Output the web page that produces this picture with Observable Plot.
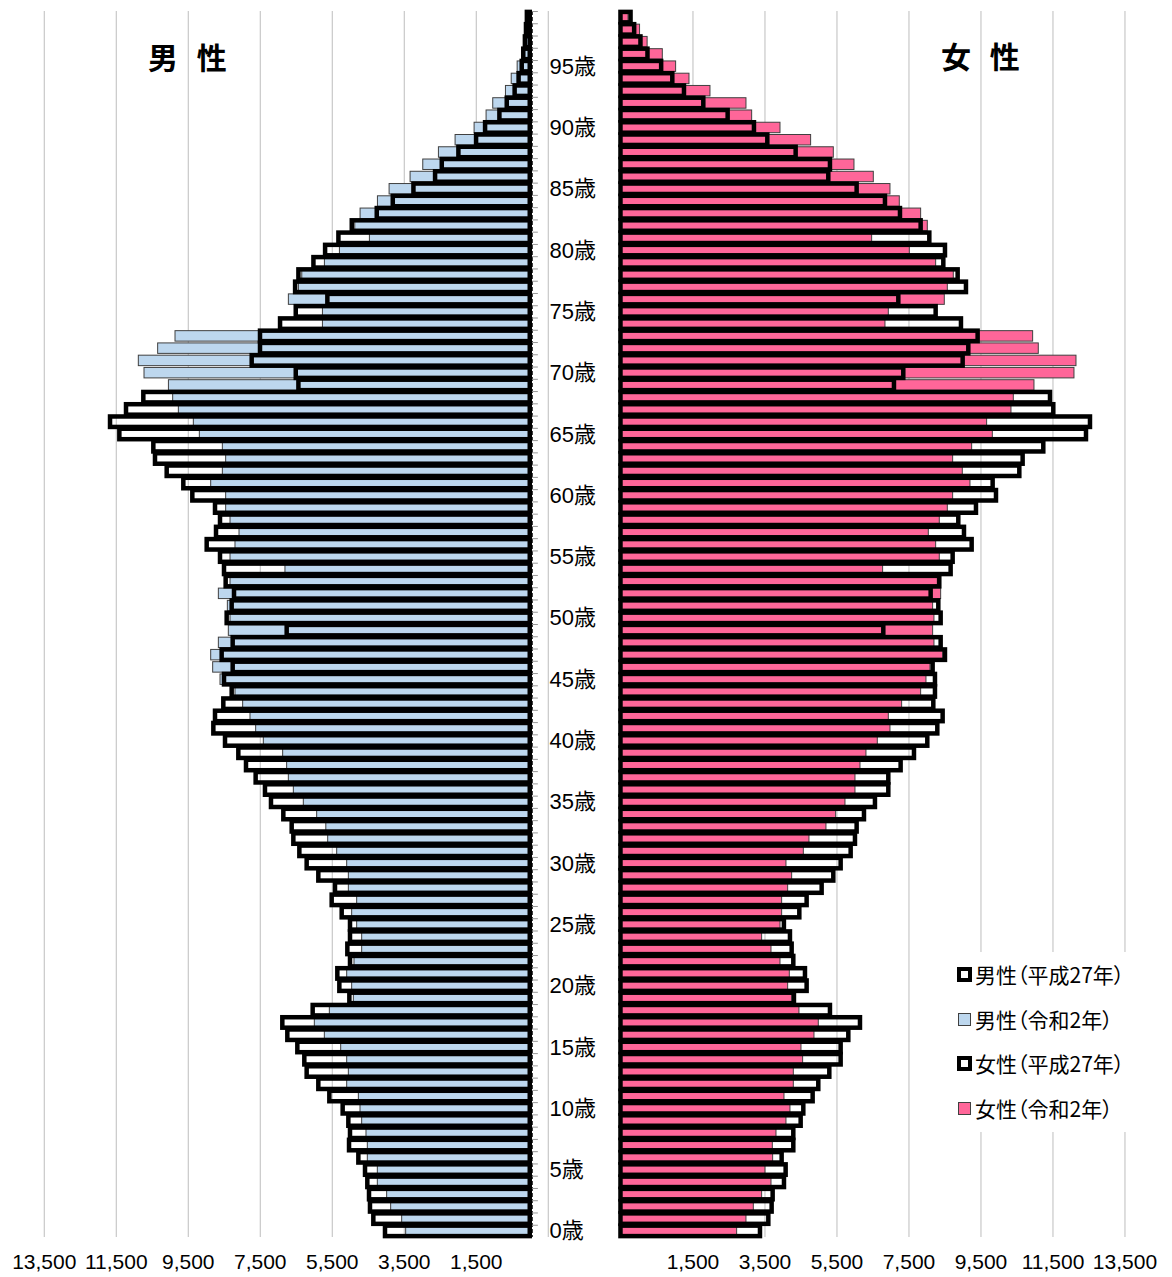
<!DOCTYPE html>
<html><head><meta charset="utf-8">
<script src="https://cdn.jsdelivr.net/npm/d3@7"></script>
<script src="https://cdn.jsdelivr.net/npm/@observablehq/plot@0.6"></script>
<style>
body{margin:0;background:#fff;}
#wrap{position:relative;width:1172px;height:1277px;overflow:hidden;font-family:"Noto Sans CJK JP","Noto Sans",sans-serif;}
#wrap svg{position:absolute;left:0;top:0;}
.title{position:absolute;font-weight:bold;font-size:30px;letter-spacing:6px;line-height:30px;white-space:pre;color:#000;}
#legend{position:absolute;left:940px;top:952px;width:218px;height:180px;background:#fff;}
.item{position:absolute;left:17px;height:26px;font-size:21px;line-height:26px;display:flex;align-items:center;white-space:nowrap;color:#000;font-feature-settings:"palt";}
.sw{display:inline-block;box-sizing:border-box;}
</style></head>
<body><div id="wrap"></div>
<script>
// ---- data (persons), index = age 0..99 ----
const ages = d3.range(0, 100);
const male2015 = [4021,4345,4438,4465,4512,4576,4761,5020,4993,5039,
  5197,5567,5873,6197,6262,6456,6734,6873,6030,5011,
  5289,5345,4993,5067,4993,4993,5224,5502,5410,5873,
  6197,6400,6567,6613,6845,7188,7355,7614,7882,8095,
  8465,8789,8743,8512,8280,8493,8252,8558,8252,6752,
  8419,8280,8215,8447,8493,8604,8974,8715,8604,8743,
  9373,9623,10085,10410,10456,11400,11659,11215,10734,6426,
  6500,7724,7493,7493,6936,6500,5622,6518,6426,6009,
  5685,5315,4944,4250,3805,3231,2630,2444,1982,1491,
  1241,843,639,420,310,223,180,135,105,80];
const male2020 = [3447,3558,3864,3975,4234,4234,4512,4512,4549,4669,
  4715,4761,5085,5039,5085,5252,5706,5984,5567,4900,
  4947,5085,4882,4669,4669,4808,4947,4808,5039,5039,
  5085,5363,5613,5665,5919,6290,6567,6706,6753,6864,
  7401,7614,7771,7975,8188,8604,8808,8863,8650,8373,
  8326,8400,8650,8326,6800,8326,8188,8076,8326,8447,
  8447,8863,8539,8447,8539,9178,9345,9761,9919,10037,
  10715,10873,10336,9854,5759,5759,6705,6426,6333,5704,
  5287,4454,4861,4713,4231,3907,3324,2972,2537,2074,
  1546,1213,1028,675,515,350,210,140,95,65];
const female2015 = [3875,4107,4199,4227,4542,4588,4477,4801,4801,5005,
  5079,5338,5495,5801,6116,6116,6329,6653,5819,4819,
  5171,5125,4801,4755,4708,4540,4968,5171,5588,5912,
  6116,6394,6514,6560,6764,7069,7440,7440,7782,8153,
  8523,8801,8949,8690,8736,8736,8671,9014,8894,7301,
  8894,8829,8616,8856,9171,9227,9755,9542,9384,9875,
  10431,10338,11079,11171,11745,12931,13042,12023,11931,7597,
  7856,9505,9662,9921,9458,8755,7718,9597,9366,8968,
  9014,8579,8338,7764,7347,6560,5773,5819,4866,4079,
  3708,2977,2301,1764,1440,1130,750,555,380,280];
const female2020 = [3227,3486,3690,3921,4181,4014,4227,4218,4320,4597,
  4708,4542,4801,4801,5060,5014,5375,5495,4958,4755,
  4644,4690,4431,4181,3921,4431,4477,4477,4644,4755,
  4597,5079,5236,5708,5977,6236,6514,6514,6653,6819,
  7134,7486,7440,7810,8338,8486,8597,8949,8708,8671,
  8708,8671,8894,8801,7282,8856,8755,8551,8856,9079,
  9227,9708,9495,9227,9755,10329,10171,10847,10912,11486,
  12597,12653,11606,11449,7347,7440,8995,9079,9245,8755,
  8023,6977,8523,8338,7745,7486,7023,6486,5912,5282,
  4431,3644,3486,2486,1903,1532,1162,740,530,210];
const tickValues = [1500,3500,5500,7500,9500,11500,13500];
const tickLabels = ["1,500","3,500","5,500","7,500","9,500","11,500","13,500"];
const seriesNames = ["男性（平成27年）","男性（令和2年）","女性（平成27年）","女性（令和2年）"];
const sideTitles = ["男 性","女 性"];

// ---- layout ----
const W = 1172, H = 1277;
const PX = 0.036;          // px per person
const MALE_ZERO = 529.75;  // px of male baseline
const FEMALE_OFF = 2520;   // female baseline offset in the shared x unit
const FEMALE_AXIS_SHIFT = 500; // female axis labels in the original sit 500 to the right
const blue = "#BDD7EE", pink = "#FF6699";

const rows = ages.map(a => ({age: a, m15: male2015[a], m20: male2020[a], f15: female2015[a], f20: female2020[a]}));
const ticks = [
  ...tickValues.map((v,i) => ({u: -v, label: tickLabels[i]})),
  ...tickValues.map((v,i) => ({u: FEMALE_OFF + v + FEMALE_AXIS_SHIFT, label: tickLabels[i]}))
];
const MT = 11, MB = 40;
const step = (H - MB - MT) / ages.length;
const inset = 0.9;

const chart = Plot.plot({
  width: W, height: H,
  marginTop: MT, marginBottom: MB, marginLeft: 0, marginRight: 0,
  x: {domain: [-MALE_ZERO / PX, (W - MALE_ZERO) / PX], axis: null},
  y: {type: "band", domain: ages.slice().reverse(), padding: 0, round: false, axis: null},
  style: {background: "white", fontFamily: "'Liberation Sans','Noto Sans CJK JP',sans-serif"},
  marks: [
    Plot.ruleX(ticks, {x: "u", stroke: "#bdbdbd", strokeWidth: 1}),
    Plot.ruleX([FEMALE_AXIS_SHIFT], {stroke: "#bdbdbd", strokeWidth: 1}),
    Plot.ruleX([0], {dx: 2, stroke: "#000", strokeWidth: 1, strokeDasharray: "4,2"}),
    Plot.ruleY(ages, {y: d => d, x1: 0, x2: 170, dx: 2, dy: -step / 2, stroke: "#999", strokeWidth: 1}),
    // 2020 bars
    Plot.barX(rows, {y: "age", x1: d => -d.m20, x2: 0, fill: blue, stroke: "#404040", strokeWidth: 1, insetTop: inset, insetBottom: inset}),
    Plot.barX(rows, {y: "age", x1: FEMALE_OFF, x2: d => FEMALE_OFF + d.f20, fill: pink, stroke: "#404040", strokeWidth: 1, insetTop: inset, insetBottom: inset}),
    // 2015 bars (outline)
    Plot.barX(rows, {y: "age", x1: d => -d.m15, x2: 0, fill: "none", stroke: "#000", strokeWidth: 4.5, insetTop: inset, insetBottom: inset}),
    Plot.barX(rows, {y: "age", x1: FEMALE_OFF, x2: d => FEMALE_OFF + d.f15, fill: "none", stroke: "#000", strokeWidth: 4.5, insetTop: inset, insetBottom: inset}),
    // age labels
    Plot.text(ages.filter(a => a % 5 === 0), {y: d => d, text: d => d + "歳", frameAnchor: "left", dx: 549, textAnchor: "start", fontSize: 22, fill: "#000"}),
    // bottom tick labels
    Plot.text(ticks, {x: "u", text: "label", frameAnchor: "bottom", dy: 31, fontSize: 21, fill: "#000"})
  ]
});

const wrap = document.getElementById("wrap");
wrap.appendChild(chart);

// titles
[[sideTitles[0], 148, 41], [sideTitles[1], 941, 40]].forEach(([t, x, y]) => {
  const d = document.createElement("div");
  d.className = "title"; d.textContent = t;
  d.style.left = x + "px"; d.style.top = y + "px";
  wrap.appendChild(d);
});

// legend
const legend = document.createElement("div");
legend.id = "legend";
const swatches = [
  {w: 15, border: "4px solid #000", bg: "#fff"},
  {w: 13, border: "1px solid #404040", bg: blue},
  {w: 15, border: "4px solid #000", bg: "#fff"},
  {w: 13, border: "1px solid #404040", bg: pink}
];
const tops = [9, 54, 98, 143];
seriesNames.forEach((name, i) => {
  const it = document.createElement("div");
  it.className = "item"; it.style.top = tops[i] + "px";
  const sw = document.createElement("span");
  sw.className = "sw";
  sw.style.width = swatches[i].w + "px"; sw.style.height = swatches[i].w + "px";
  sw.style.border = swatches[i].border; sw.style.background = swatches[i].bg;
  sw.style.marginLeft = swatches[i].w === 13 ? "1px" : "0px";
  sw.style.marginRight = swatches[i].w === 13 ? "4px" : "3px";
  const tx = document.createElement("span");
  tx.textContent = name;
  it.appendChild(sw); it.appendChild(tx);
  legend.appendChild(it);
});
wrap.appendChild(legend);
</script>
</body></html>
